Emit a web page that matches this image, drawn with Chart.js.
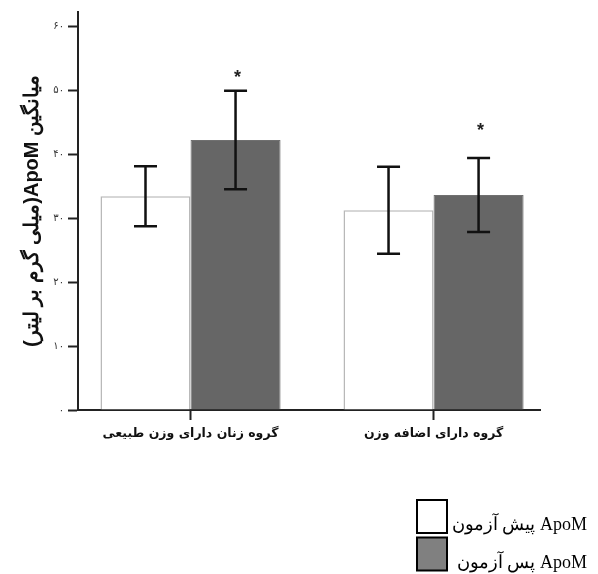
<!DOCTYPE html>
<html lang="fa">
<head>
<meta charset="utf-8">
<script src="https://cdn.jsdelivr.net/npm/chart.js@4"></script>
<style>
  html, body { margin: 0; padding: 0; background: #fff; }
</style>
</head>
<body>
<canvas id="apomChart" width="598" height="574" dir="rtl"></canvas>
<script>
const groups = ["گروه زنان دارای وزن طبیعی", "گروه دارای اضافه وزن"];
const seriesLabels = ["ApoM پیش آزمون", "ApoM پس آزمون"];
const preMean = [33.4, 31.2];
const preSd = [4.7, 6.8];
const postMean = [42.2, 33.6];
const postSd = [7.7, 5.8];
const starAt = [52.7, 44.4]; // height of the * over each post-test bar
const yTicks = [0, 10, 20, 30, 40, 50, 60];

const faDigits = "۰۱۲۳۴۵۶۷۸۹";
const toFa = (n) => String(n).replace(/\d/g, (d) => faDigits[d]);

const errorBars = {
    id: "errorBars",
    afterDatasetsDraw(chart) {
        const { ctx } = chart;
        const y = chart.scales.y;
        ctx.save();
        ctx.strokeStyle = "#111";
        ctx.lineWidth = 2.5;
        chart.data.datasets.forEach((ds, di) => {
            chart.getDatasetMeta(di).data.forEach((bar, i) => {
                const m = ds.data[i].y;
                const top = y.getPixelForValue(m + ds.sd[i]);
                const bot = y.getPixelForValue(m - ds.sd[i]);
                ctx.beginPath();
                ctx.moveTo(bar.x, top);
                ctx.lineTo(bar.x, bot);
                ctx.moveTo(bar.x - 11.5, top);
                ctx.lineTo(bar.x + 11.5, top);
                ctx.moveTo(bar.x - 11.5, bot);
                ctx.lineTo(bar.x + 11.5, bot);
                ctx.stroke();
            });
        });
        // significance stars on the post-test bars
        ctx.fillStyle = "#222";
        ctx.font = "bold 18px 'Liberation Sans'";
        ctx.textAlign = "center";
        ctx.textBaseline = "alphabetic";
        chart.getDatasetMeta(1).data.forEach((bar, i) => {
            ctx.fillText("*", bar.x + 2, y.getPixelForValue(starAt[i]) + 10);
        });
        ctx.restore();
    },
};

const boxLegend = {
    id: "boxLegend",
    afterDraw(chart) {
        const { ctx } = chart;
        ctx.save();
        chart.data.datasets.forEach((ds, i) => {
            const top = 500 + i * 37.5;
            ctx.fillStyle = ds.legendColor;
            ctx.fillRect(417, top, 30, 33);
            ctx.strokeStyle = "#000";
            ctx.lineWidth = 2;
            ctx.strokeRect(417, top, 30, 33);
            ctx.fillStyle = "#000";
            ctx.font = "18px 'Liberation Serif'";
            ctx.direction = "rtl";
            ctx.textAlign = "right";
            ctx.textBaseline = "alphabetic";
            ctx.fillText(ds.label, 587, top + 30);
        });
        ctx.restore();
    },
};

new Chart(document.getElementById("apomChart"), {
    type: "bar",
    data: {
        datasets: [
            {
                label: seriesLabels[0],
                data: groups.map((g, i) => ({ x: i, y: preMean[i] })),
                sd: preSd,
                backgroundColor: "#ffffff",
                borderColor: "#b8b8b8",
                borderWidth: 1.5,
                legendColor: "#ffffff",
            },
            {
                label: seriesLabels[1],
                data: groups.map((g, i) => ({ x: i, y: postMean[i] })),
                sd: postSd,
                backgroundColor: "#666666",
                borderColor: "#707070",
                borderWidth: 1,
                legendColor: "#808080",
            },
        ],
    },
    options: {
        responsive: false,
        animation: false,
        categoryPercentage: 0.741,
        barPercentage: 1,
        layout: { padding: { top: 12, right: 58, left: 0, bottom: 0 } },
        plugins: {
            legend: { display: false },
            tooltip: { enabled: false },
        },
        scales: {
            x: {
                type: "linear",
                min: -0.463,
                max: 1.438,
                offset: false,
                afterBuildTicks: (s) => {
                    s.ticks = groups.map((g, i) => ({ value: i }));
                },
                afterFit: (s) => {
                    s.height = 164;
                },
                ticks: {
                    callback: (v) => groups[v],
                    autoSkip: false,
                    maxRotation: 0,
                    color: "#111",
                    padding: 6,
                    font: { family: "DejaVu Sans", size: 12.5, weight: "bold" },
                },
                grid: {
                    offset: false,
                    drawOnChartArea: false,
                    tickLength: 10,
                    tickColor: "#222",
                    tickWidth: 2,
                },
                border: { color: "#222", width: 2 },
            },
            y: {
                min: 0,
                max: 62.2,
                afterBuildTicks: (s) => {
                    s.ticks = yTicks.map((v) => ({ value: v }));
                },
                afterFit: (s) => {
                    s.width = 78;
                },
                ticks: {
                    callback: (v) => toFa(v),
                    color: "#333",
                    padding: 4,
                    font: { family: "DejaVu Sans", size: 10 },
                },
                grid: {
                    drawOnChartArea: false,
                    tickLength: 10,
                    tickColor: "#222",
                    tickWidth: 2,
                },
                border: { color: "#222", width: 2 },
                title: {
                    display: true,
                    text: "میانگین ApoM(میلی گرم بر لیتر)",
                    color: "#111",
                    padding: { top: 20, bottom: 0 },
                    font: { family: "Liberation Sans", size: 20, weight: "bold" },
                },
            },
        },
    },
    plugins: [errorBars, boxLegend],
});
</script>
</body>
</html>
